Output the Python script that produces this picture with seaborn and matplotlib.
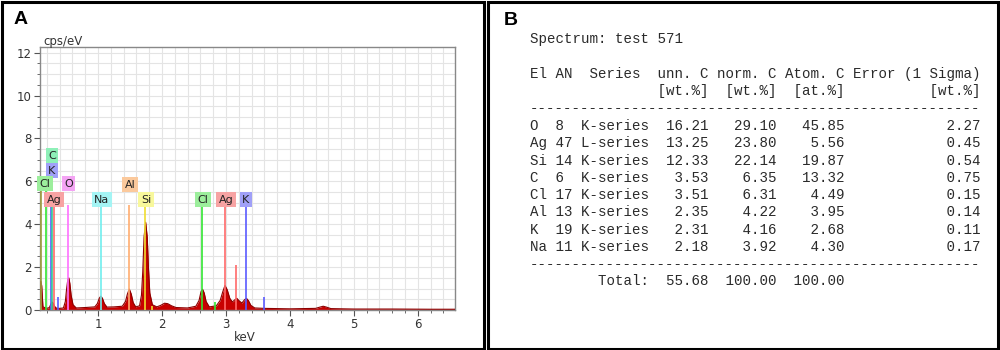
import matplotlib
matplotlib.use("Agg")
import matplotlib.pyplot as plt
import seaborn as sns
from matplotlib.patches import Rectangle
from matplotlib.ticker import MultipleLocator

# ---------------- spectrum (keV -> cps/eV) ----------------
kev = [0.095, 0.105, 0.12, 0.14, 0.20, 0.24, 0.265, 0.28, 0.30, 0.32, 0.35, 0.40, 0.46,
       0.49, 0.51, 0.53, 0.545, 0.56, 0.58, 0.61, 0.66, 0.80, 0.95, 0.99, 1.02, 1.045,
       1.07, 1.10, 1.14, 1.25, 1.38, 1.43, 1.46, 1.49, 1.52, 1.55, 1.59, 1.65, 1.68, 1.70,
       1.72, 1.745, 1.77, 1.79, 1.81, 1.85, 1.92, 1.98, 2.04, 2.09, 2.15, 2.22, 2.40, 2.53,
       2.58, 2.61, 2.635, 2.66, 2.69, 2.74, 2.85, 2.91, 2.95, 2.985, 3.02, 3.06, 3.10,
       3.14, 3.17, 3.21, 3.25, 3.29, 3.32, 3.35, 3.39, 3.45, 3.60, 4.00, 4.40, 4.47,
       4.52, 4.57, 4.64, 5.00, 5.60, 6.20, 6.60]
cps = [0.25, 1.35, 1.15, 0.15, 0.08, 0.12, 0.28, 0.38, 0.33, 0.18, 0.09, 0.08, 0.10,
       0.40, 1.00, 1.45, 1.50, 1.25, 0.70, 0.25, 0.10, 0.12, 0.15, 0.30, 0.55, 0.65,
       0.55, 0.30, 0.14, 0.15, 0.18, 0.40, 0.75, 0.98, 0.75, 0.35, 0.15, 0.20, 0.70, 1.80,
       3.40, 4.10, 3.40, 1.90, 0.80, 0.25, 0.15, 0.22, 0.32, 0.30, 0.20, 0.12, 0.10, 0.18,
       0.45, 0.85, 0.97, 0.80, 0.40, 0.15, 0.20, 0.45, 0.85, 1.15, 0.95, 0.55, 0.38,
       0.48, 0.55, 0.42, 0.33, 0.48, 0.55, 0.45, 0.22, 0.10, 0.08, 0.06, 0.08, 0.14,
       0.18, 0.14, 0.07, 0.05, 0.05, 0.04, 0.04]

# element marker lines (keV, top in cps/eV)
line_el = ["bg", "Cl", "K", "C", "Ag", "K", "O", "Na", "Al", "Si", "Si", "Cl", "Cl",
           "Ag", "Ag", "K", "K"]
line_kev = [0.105, 0.19, 0.27, 0.28, 0.31, 0.37, 0.53, 1.04, 1.49, 1.74, 1.84, 2.62,
            2.83, 2.98, 3.15, 3.31, 3.59]
line_top = [5.7, 5.6, 5.0, 4.9, 4.9, 0.6, 4.9, 4.9, 4.9, 4.9, 0.2, 4.9, 0.4, 4.9,
            2.1, 4.9, 0.6]

# peak labels
label_el = ["C", "K", "Cl", "O", "Ag", "Na", "Al", "Si", "Cl", "Ag", "K"]
label_kev = [0.28, 0.28, 0.17, 0.54, 0.31, 1.06, 1.50, 1.75, 2.64, 3.00, 3.31]
label_cps = [7.2, 6.5, 5.9, 5.9, 5.15, 5.15, 5.85, 5.15, 5.15, 5.15, 5.15]

# ---------------- quantification table (panel B) ----------------
spectrum_name = "test 571"
elements = ["O", "Ag", "Si", "C", "Cl", "Al", "K", "Na"]
atomic_no = [8, 47, 14, 6, 17, 13, 19, 11]
series = ["K-series", "L-series", "K-series", "K-series", "K-series", "K-series",
          "K-series", "K-series"]
unn_c = [16.21, 13.25, 12.33, 3.53, 3.51, 2.35, 2.31, 2.18]
norm_c = [29.10, 23.80, 22.14, 6.35, 6.31, 4.22, 4.16, 3.92]
atom_c = [45.85, 5.56, 19.87, 13.32, 4.49, 3.95, 2.68, 4.30]
error = [2.27, 0.45, 0.54, 0.75, 0.15, 0.14, 0.11, 0.17]
totals = [55.68, 100.00, 100.00]

box_col = {"C": "#8ef0b8", "K": "#a0a0f8", "Cl": "#9cee9c", "O": "#f4a4f4",
           "Ag": "#f7a3a3", "Na": "#a4f4f4", "Al": "#fbc99c", "Si": "#f8f89c"}
line_col = {"C": "#33cc99", "K": "#5a5aff", "Cl": "#33e633", "O": "#ff70ff",
            "Ag": "#ff6a6a", "Na": "#70eeee", "Al": "#ffad70", "Si": "#f0dd30",
            "bg": "#a0a040"}

sns.set_theme(style="white")
plt.rcParams["font.family"] = ["DejaVu Sans"]

fig = plt.figure(figsize=(10, 3.5), dpi=100)

# ===================== panel A: EDS spectrum =====================
ax = fig.add_axes([0.040, 0.114, 0.415, 0.751])
ax.fill_between(kev, cps, 0, color="#c80000", lw=0, zorder=2)
sns.lineplot(x=kev, y=cps, color="#8b0000", lw=0.8, estimator=None, ax=ax, zorder=3)
ax.vlines(line_kev, 0, line_top, colors=[line_col[e] for e in line_el], lw=1.2, zorder=4)
for el, x, y in zip(label_el, label_kev, label_cps):
    ax.text(x, y, el, ha="center", va="center", fontsize=8, color="#222222", zorder=6,
            bbox=dict(boxstyle="square,pad=0.22", fc=box_col[el], ec="none"))

ax.set_xlim(0.094, 6.58)
ax.set_ylim(0, 12.25)
ax.xaxis.set_major_locator(MultipleLocator(1))
ax.xaxis.set_minor_locator(MultipleLocator(0.2))
ax.yaxis.set_major_locator(MultipleLocator(2))
ax.yaxis.set_minor_locator(MultipleLocator(0.5))
ax.grid(which="both", color="#e4e4e4", lw=0.8, zorder=0)
ax.set_axisbelow(True)
ax.tick_params(which="major", direction="out", length=4, width=0.8, color="#555555",
               labelsize=8.5, labelcolor="#333333", bottom=True, left=True, pad=2)
ax.tick_params(which="minor", direction="out", length=2.5, width=0.6, color="#555555",
               bottom=True, left=True)
for s in ax.spines.values():
    s.set_color("#888888")
    s.set_linewidth(1.0)
ax.set_xlabel("")
ax.set_ylabel("")
ax.text(0.007, 1.023, "cps/eV", transform=ax.transAxes, fontsize=8.5, color="#333333",
        ha="left", va="center")
ax.text(0.494, -0.103, "keV", transform=ax.transAxes, fontsize=8.5, color="#333333",
        ha="center", va="center")

# ===================== panel B: quantification table =====================
def fy(px):
    return 1 - px / 350.0

mono = dict(family="Liberation Mono", fontsize=10.2, color="#2a2a2a", va="center",
            ha="left")
x0 = 0.530
fig.text(x0, fy(39.5), f"Spectrum: {spectrum_name}", **mono)
fig.text(x0, fy(74), "El AN  Series  unn. C norm. C Atom. C Error (1 Sigma)", **mono)
fig.text(x0, fy(91), " " * 15 + "[wt.%]  [wt.%]  [at.%]" + " " * 10 + "[wt.%]", **mono)
fig.text(x0, fy(108), "-" * 53, **mono)
for i in range(len(elements)):
    row = (f"{elements[i]:<2} {atomic_no[i]:<2} {series[i]:<8}{unn_c[i]:7.2f}"
           f"{norm_c[i]:8.2f}{atom_c[i]:8.2f}{error[i]:16.2f}")
    fig.text(x0, fy(126 + 17.3 * i), row, **mono)
fig.text(x0, fy(264.5), "-" * 53, **mono)
fig.text(x0, fy(281), f"{'Total:':>14}{totals[0]:7.2f}{totals[1]:8.2f}{totals[2]:8.2f}",
         **mono)

# panel letters and frames
fig.text(0.021, fy(20), "A", fontsize=14, fontweight="bold", family="Liberation Sans",
         ha="center", va="center", color="black")
fig.text(0.511, fy(20.5), "B", fontsize=14, fontweight="bold", family="Liberation Sans",
         ha="center", va="center", color="black")
fig.add_artist(Rectangle((0.002, 0.004), 0.482, 0.991, transform=fig.transFigure,
                         fill=False, ec="black", lw=2.2))
fig.add_artist(Rectangle((0.488, 0.004), 0.510, 0.991, transform=fig.transFigure,
                         fill=False, ec="black", lw=2.2))

fig.savefig("out.png", dpi=100)
